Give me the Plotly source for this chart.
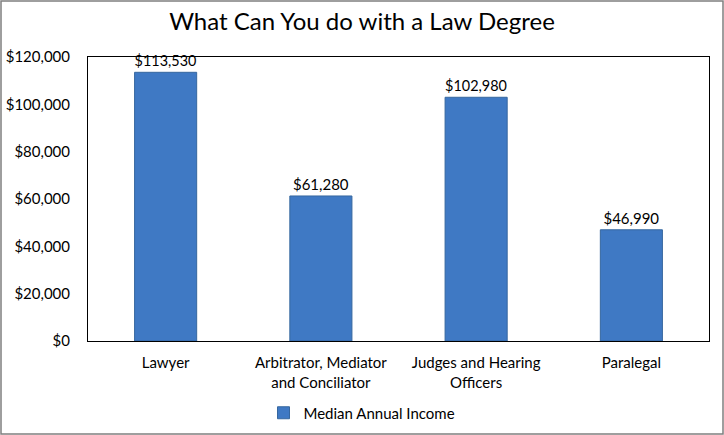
import plotly.graph_objects as go

categories = ["Lawyer", "Arbitrator, Mediator<br>and Conciliator", "Judges and Hearing<br>Officers", "Paralegal"]
values = [113530, 61280, 102980, 46990]
series_name = "Median Annual Income"
title_text = "What Can You do with a Law Degree"

W, H = 724, 435
L, R, T, B = 88, 15, 57, 94
pw, ph = W - L - R, H - T - B

font_family = "Lato, 'Open Sans', sans-serif"

fig = go.Figure()
fig.add_trace(go.Bar(
    x=categories, y=values, name=series_name,
    width=0.4,
    marker=dict(color="#3F79C4", line=dict(color="#36679F", width=1)),
    text=[f"${v:,}" for v in values],
    textposition="outside",
    textfont=dict(size=15, color="#000000", family=font_family),
    cliponaxis=False,
    showlegend=True,
))

fig.update_layout(
    width=W, height=H,
    margin=dict(l=L, r=R, t=T, b=B, autoexpand=False),
    paper_bgcolor="white", plot_bgcolor="white",
    title=dict(text=title_text, x=0.5, xref="container", y=1 - 22 / H, yanchor="middle",
               font=dict(size=24, color="#000000", family=font_family)),
    font=dict(family=font_family, color="#000000", size=15),
    bargap=0.6,
    xaxis=dict(showgrid=False, ticks="", showline=True, linecolor="#000000", linewidth=1,
               mirror=True, tickfont=dict(size=15), ticklabelstandoff=8, automargin=False),
    yaxis=dict(range=[0, 120000], dtick=20000, tickprefix="$", tickformat=",",
               showgrid=False, showline=True, linecolor="#000000", linewidth=1, mirror=True,
               ticks="", tickfont=dict(size=15), ticklabelstandoff=14, automargin=False),
    legend=dict(orientation="h", x=0.5, xref="container", xanchor="center",
                y=(H - 413) / H, yref="container", yanchor="middle",
                bgcolor="rgba(0,0,0,0)",
                font=dict(size=15), itemwidth=30),
    shapes=[dict(type="rect", xref="paper", yref="paper",
                 x0=(-L + 1) / pw, x1=1 + (R - 1) / pw,
                 y0=(-B + 1) / ph, y1=1 + (T - 1) / ph,
                 line=dict(color="#7F7F7F", width=1.5), layer="below")],
)

fig.write_html("out.html", config={"displayModeBar": False},
               post_script="document.body.style.margin='0';document.body.style.overflow='hidden';")
